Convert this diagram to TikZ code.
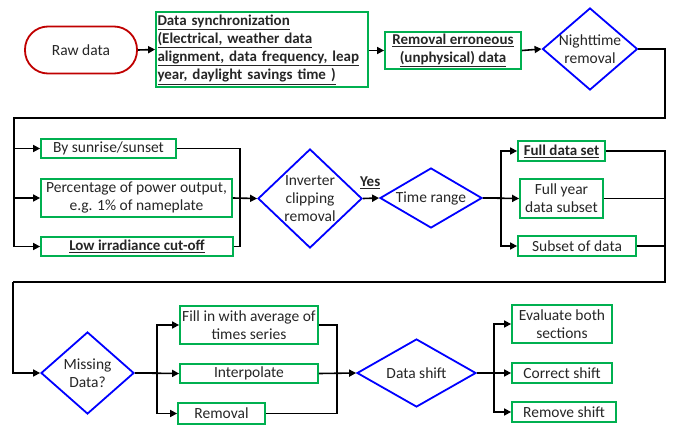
\documentclass[tikz,border=0pt]{standalone}
\usepackage{fontspec}
\setmainfont{Carlito}
\usetikzlibrary{shapes.geometric,arrows.meta}
\definecolor{boxgreen}{HTML}{00B050}
\definecolor{diablue}{HTML}{0000FF}
\definecolor{rawred}{HTML}{C00000}
\definecolor{txt}{HTML}{262626}
\tikzset{
  base/.style={font=\fontsize{15.5}{18}\selectfont, text=txt, inner sep=0pt},
  gbox/.style={base, draw=boxgreen, line width=1.8pt, rectangle, align=center},
  dia/.style={base, draw=diablue, line width=1.8pt, diamond},
  conn/.style={line width=1.6pt, draw=black},
  arr/.style={conn, -{Triangle[length=7pt,width=7pt]}},
}
\begin{document}
\begin{tikzpicture}[x=1pt,y=-1pt]
\useasboundingbox (0,0) rectangle (673,426);
% row 1
\node[base, draw=rawred, line width=1.8pt, rounded corners=23pt, minimum width=112pt, minimum height=47pt] (raw) at (81,50) {Raw data};
\node[gbox, minimum width=212pt, minimum height=75pt, text width=209pt, align=left, font=\fontsize{15}{18.3}\selectfont] (sync) at (262,49.5)
 {\textbf{\underline{Data synchronization}}\\\textbf{\underline{(Electrical, weather data}}\\\textbf{\underline{alignment, data frequency, leap}}\\\textbf{\underline{year, daylight savings time )}}};
\node[gbox, minimum width=136pt, minimum height=37pt, font=\fontsize{15}{18}\selectfont] (rem) at (453,50.5)
 {\textbf{\underline{Removal erroneous}}\\\textbf{\underline{(unphysical) data}}};
\node[dia, minimum width=95pt, minimum height=82pt] (night) at (590,49) {};
\node[base, align=center] (nighttxt) at (night) {Nighttime\\removal};
% row 2
\node[gbox, minimum width=135pt, minimum height=19pt] (sun) at (108.5,148.5) {By sunrise/sunset};
\node[gbox, minimum width=191pt, minimum height=38pt] (pct) at (136.5,198) {Percentage of power output,\\e.g. 1\% of nameplate};
\node[gbox, minimum width=192pt, minimum height=19pt, font=\fontsize{15}{18}\selectfont] (low) at (137,246.5) {\textbf{\underline{Low irradiance\ cut-off}}};
\node[dia, minimum width=104pt, minimum height=99pt] (inv) at (310,198.5) {};
\node[base, align=center] (invtxt) at (inv) {Inverter\\clipping\\removal};
\node[dia, minimum width=102pt, minimum height=60pt] (tr) at (431,198) {};
\node[base] (trtxt) at (tr) {Time range};
\node[gbox, minimum width=87pt, minimum height=20pt, font=\fontsize{15}{18}\selectfont] (full) at (561.5,151) {\textbf{\underline{Full data set}}};
\node[gbox, minimum width=83pt, minimum height=39pt] (fy) at (561.5,198.5) {Full year\\data subset};
\node[gbox, minimum width=118pt, minimum height=20pt] (subset) at (577,246) {Subset of data};
% row 3
\node[dia, minimum width=93pt, minimum height=82pt] (miss) at (87.5,373) {};
\node[base, align=center] (misstxt) at (miss) {Missing\\Data?};
\node[gbox, minimum width=138pt, minimum height=38pt] (fill) at (249,325) {Fill in with average of\\times series};
\node[gbox, minimum width=138pt, minimum height=19pt] (interp) at (249,373.5) {Interpolate};
\node[gbox, minimum width=87pt, minimum height=21pt] (remv) at (221.5,413.5) {Removal};
\node[dia, minimum width=119pt, minimum height=68pt] (shift) at (416.5,373) {};
\node[base] (shifttxt) at (shift) {Data shift};
\node[gbox, minimum width=100pt, minimum height=38pt] (eval) at (562,324) {Evaluate both\\sections};
\node[gbox, minimum width=100pt, minimum height=20pt] (corr) at (562,373) {Correct shift};
\node[gbox, minimum width=104pt, minimum height=20pt] (rshift) at (564,412) {Remove shift};
% coordinates
\coordinate (tr1) at (665,118);
\coordinate (l1) at (14,118);
\coordinate (m1) at (240,198);
\coordinate (b2) at (501,198);
\coordinate (r3) at (665,282);
\coordinate (l3) at (13,282);
\coordinate (b3) at (157,373);
\coordinate (m3) at (337,373);
\coordinate (b4) at (494,373);
% connectors row 1
\draw[arr] (raw.east) -- (sync.west);
\draw[arr] (sync.east |- rem.west) -- (rem.west);
\draw[arr] (rem.east) -- (night.west);
\draw[arr] (night.east) -| (tr1) -- (l1) |- (low.west);
\draw[arr] (l1 |- sun.west) -- (sun.west);
\draw[arr] (l1 |- pct.west) -- (pct.west);
% row 2
\draw[conn] (sun.east) -| (m1) |- (low.east);
\draw[arr] (pct.east) -- (inv.west);
\draw[arr] (inv.east) -- node[base, above=9pt, pos=0.45, font=\fontsize{15}{18}\selectfont] (yes) {\textbf{\underline{Yes}}} (tr.west);
\draw[conn] (tr.east) -- (b2);
\draw[arr] (b2) |- (full.west);
\draw[arr] (b2) |- (subset.west);
\draw[arr] (tr.east) -- (fy.west);
\draw[conn] (full.east) -| (r3) -- (l3);
\draw[arr] (l3) |- (miss.west);
\draw[conn] (fy.east) -- (fy.east -| r3);
\draw[conn] (subset.east) -- (subset.east -| r3);
% row 3
\draw[conn] (miss.east) -- (b3);
\draw[arr] (b3) |- (fill.west);
\draw[arr] (b3) |- (remv.west);
\draw[arr] (miss.east) -- (interp.west);
\draw[conn] (fill.east) -| (m3) |- (remv.east);
\draw[arr] (interp.east) -- (shift.west);
\draw[conn] (shift.east) -- (b4);
\draw[arr] (b4) |- (eval.west);
\draw[arr] (b4) |- (rshift.west);
\draw[arr] (shift.east) -- (corr.west);
\end{tikzpicture}
\end{document}
